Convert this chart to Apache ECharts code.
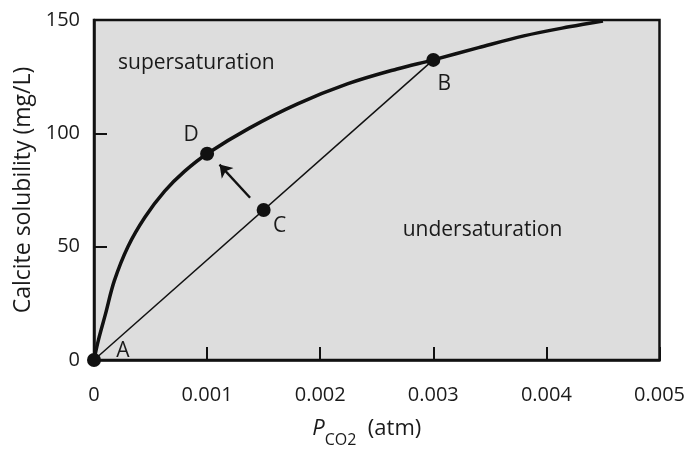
<!DOCTYPE html>
<html>
<head>
<meta charset="utf-8">
<script src="https://cdn.jsdelivr.net/npm/echarts@6/dist/echarts.min.js"></script>
<style>html,body{margin:0;padding:0;background:#fff}#c{width:688px;height:453px}</style>
</head>
<body>
<div id="c"></div>
<script>
// Solubility curve (P_CO2 in atm, calcite solubility in mg/L)
var curveX = [0, 0.00004, 0.0001, 0.00018, 0.0003, 0.00045, 0.000625, 0.0008, 0.001, 0.00137, 0.0018, 0.00224, 0.00268, 0.003, 0.0034, 0.0038, 0.0042, 0.0045];
var curveY = [0, 9, 20, 35, 50, 63, 74.5, 83.2, 91, 102.2, 113, 121.8, 128.4, 132.4, 137.8, 143, 147, 149.6];
// Straight line A -> B
var lineX = [0, 0.003];
var lineY = [0, 132.4];
// Labelled points
var pointNames = ['A', 'B', 'C', 'D'];
var pointX = [0, 0.003, 0.0015, 0.001];
var pointY = [0, 132.4, 66.2, 91];
// Arrow C -> D
var arrowFrom = [0.00138, 71.6];
var arrowTo = [0.00111, 86.2];
// Region labels
var regionNames = ['supersaturation', 'undersaturation'];
var regionX = [0.000905, 0.003435];
var regionY = [131, 57.2];
// Ticks
var xTicks = [0, 0.001, 0.002, 0.003, 0.004, 0.005];
var yTicks = [0, 50, 100, 150];

var FONT = 'Open Sans';
var INK = '#1a1a1a';
var labelOffset = {A: [29, -9], B: [11, 24], C: [16, 16], D: [-16, -19]};

var chart = echarts.init(document.getElementById('c'), null, {renderer: 'canvas'});
chart.setOption({
  animation: false,
  grid: {left: 94, right: 22, top: 20, bottom: 89, show: true, backgroundColor: '#dddddd', borderColor: '#111', borderWidth: 2.5},
  xAxis: {
    type: 'value', min: xTicks[0], max: xTicks[xTicks.length - 1], interval: 0.001,
    axisLine: {show: true, lineStyle: {color: '#111', width: 2.5}},
    axisTick: {show: true, inside: true, length: 13, lineStyle: {color: '#111', width: 2}},
    splitLine: {show: false},
    axisLabel: {color: INK, fontFamily: FONT, fontSize: 20, margin: 25,
      formatter: function (v) { return v === 0 ? '0' : v.toFixed(3); }},
    name: '{p|P}{s|CO2}{n|  (atm)}',
    nameLocation: 'middle', nameGap: 58,
    nameTextStyle: {
      padding: [0, 20, 0, 0],
      rich: {
        p: {fontFamily: FONT, fontStyle: 'italic', fontSize: 22, color: INK, lineHeight: 30, verticalAlign: 'top'},
        s: {fontFamily: FONT, fontSize: 16, color: INK, lineHeight: 30, verticalAlign: 'bottom', padding: [12, 0, 0, 0]},
        n: {fontFamily: FONT, fontSize: 22, color: INK, lineHeight: 30, verticalAlign: 'top'}
      }
    }
  },
  yAxis: {
    type: 'value', min: yTicks[0], max: yTicks[yTicks.length - 1], interval: 50,
    axisLine: {show: true, lineStyle: {color: '#111', width: 2.5}},
    axisTick: {show: true, inside: true, length: 13, lineStyle: {color: '#111', width: 2}},
    splitLine: {show: false},
    axisLabel: {color: INK, fontFamily: FONT, fontSize: 20, margin: 14},
    name: 'Calcite solubility (mg/L)', nameLocation: 'middle', nameGap: 57,
    nameTextStyle: {color: INK, fontFamily: FONT, fontSize: 23}
  },
  series: [
    {
      type: 'line', symbol: 'none', smooth: 0.35, z: 3,
      lineStyle: {color: '#111', width: 3.5},
      data: curveX.map(function (x, i) { return [x, curveY[i]]; })
    },
    {
      type: 'line', symbol: 'none', z: 3,
      lineStyle: {color: '#111', width: 1.5},
      data: lineX.map(function (x, i) { return [x, lineY[i]]; })
    },
    {
      type: 'lines', coordinateSystem: 'cartesian2d', z: 4,
      symbol: ['none', 'arrow'], symbolSize: 12,
      lineStyle: {color: '#111', width: 2.4, opacity: 1},
      data: [{coords: [arrowFrom, arrowTo]}]
    },
    {
      type: 'scatter', symbol: 'circle', symbolSize: 14, z: 5, clip: false,
      itemStyle: {color: '#111', opacity: 1},
      data: pointNames.map(function (n, i) {
        return {name: n, value: [pointX[i], pointY[i]],
          label: {show: true, formatter: n, position: 'inside', offset: labelOffset[n],
            color: INK, fontFamily: FONT, fontSize: 21}};
      })
    },
    {
      type: 'scatter', symbolSize: 0, z: 5, silent: true,
      itemStyle: {opacity: 1},
      data: regionNames.map(function (n, i) {
        return {name: n, value: [regionX[i], regionY[i]],
          label: {show: true, formatter: n, position: 'inside', color: INK, fontFamily: FONT, fontSize: 21}};
      })
    }
  ]
});
</script>
</body>
</html>
